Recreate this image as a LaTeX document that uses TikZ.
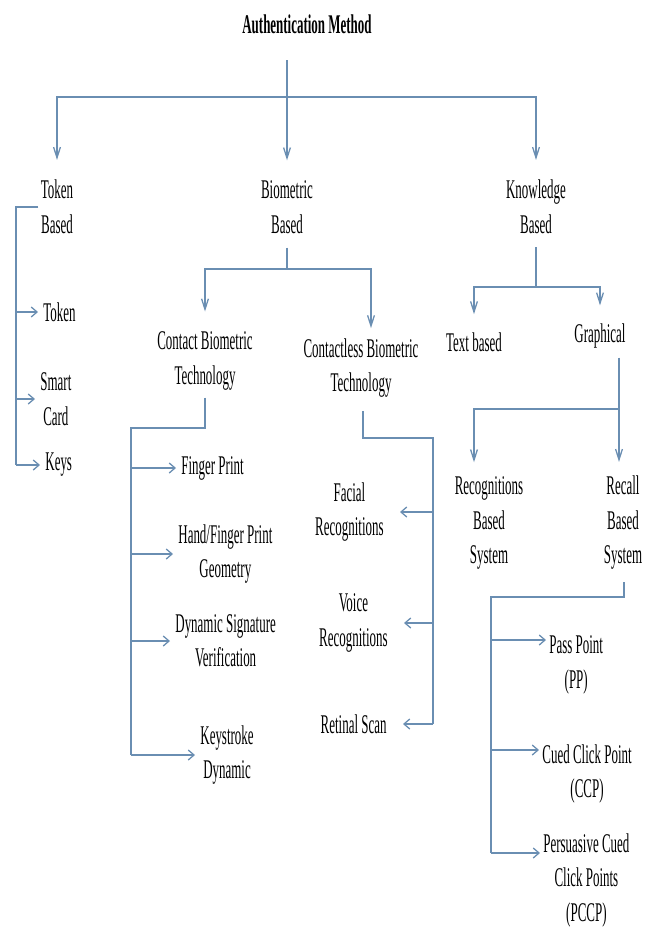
\documentclass[tikz,border=0pt]{standalone}
\usepackage{fontspec}
\setmainfont[FakeStretch=0.48]{Liberation Serif}
\usetikzlibrary{arrows.meta}
\definecolor{linkblue}{RGB}{106,142,178}

\begin{document}
\begin{tikzpicture} [x=0.5pt, y=-0.5pt,
  every node/.style={font=\fontsize{13.5}{17.25}\selectfont, align=center, inner sep=0pt},
  lnk/.style={linkblue, line width=0.65pt},
  dn/.style={lnk, -{Straight Barb[length=5.3pt, width=3.4pt]}},
  sd/.style={lnk, -{Straight Barb[length=2.9pt, width=5pt]}, shorten >=2.5pt}]
\useasboundingbox (0,0) rectangle (650,927);

\node (title) at (307,24) {\bfseries Authentication Method};
\node (tokB) at (57,207) {Token\\Based};
\node (bioB) at (287,207) {Biometric\\Based};
\node (knowB) at (536,207) {Knowledge\\Based};

\node[anchor=west] (token) at (43,312) {Token};
\node[anchor=west] (smart) at (40,399) {Smart\\Card};
\node[anchor=west] (keys) at (45,465) {Keys};

\node (cbt) at (205,361) {Contact Biometric\\Technology};
\node (clbt) at (361,368) {Contactless Biometric\\Technology};
\node (textb) at (474,342) {Text based};
\node (graph) at (600,336) {Graphical};

\node[anchor=west] (fprint) at (181,468) {Finger Print};
\node[anchor=west] (hand) at (178,554) {Hand/Finger Print\\Geometry};
\node[anchor=west] (dsig) at (175,641) {Dynamic Signature\\Verification};
\node[anchor=west] (keyst) at (200,755) {Keystroke\\Dynamic};

\node[anchor=east] (facial) at (384,512) {Facial\\Recognitions};
\node[anchor=east] (voice) at (388,623) {Voice\\Recognitions};
\node[anchor=east] (retinal) at (387,724) {Retinal Scan};

\node (recog) at (489,523) {Recognitions\\Based\\System};
\node (recall) at (623,523) {Recall\\Based\\System};

\node[anchor=west] (pp) at (549,665) {Pass Point\\(PP)};
\node[anchor=west] (ccp) at (542,774) {Cued Click Point\\(CCP)};
\node[anchor=west] (pccp) at (543,880) {Persuasive Cued\\Click Points\\(PCCP)};

\coordinate (t0) at (287,60);
\coordinate (j0) at (287,97);
\draw[dn, shorten >=10pt] (t0) -- (bioB.north);
\draw[dn, shorten >=10pt] (j0) -| (tokB.north);
\draw[dn, shorten >=10pt] (j0) -| (knowB.north);

\coordinate (tk) at (16,207);
\draw[lnk, shorten <=1pt] (tokB.west) -- (tk) -- (tk |- keys);
\foreach \n in {token, smart, keys} {
 \draw[sd] (tk |- \n) -- (\n.west);
}

\coordinate (bj) at (287,269);
\draw[lnk, shorten <=7pt] (bioB.south) -- (bj);
\draw[dn, shorten >=10pt] (bj) -| (cbt.north);
\draw[dn, shorten >=5pt] (bj) -| ([xshift=5pt]clbt.north);

\coordinate (cb) at (131,428);
\draw[lnk, shorten <=3.5pt] (cbt.south) |- (cb) -- (cb |- keyst);
\foreach \n in {fprint, hand, dsig, keyst} {
 \draw[sd] (cb |- \n) -- (\n.west);
}

\coordinate (cl) at (433,438);
\draw[lnk, shorten <=6.5pt] ([xshift=1pt]clbt.south) |- (cl) -- (cl |- retinal);
\foreach \n in {facial, voice, retinal} {
 \draw[sd, shorten >=8pt] (cl |- \n) -- (\n.east);
}

\coordinate (kj) at (536,287);
\draw[lnk, shorten <=6.5pt] (knowB.south) -- (kj);
\draw[dn, shorten >=9pt] (kj) -| (textb.north);
\draw[dn, shorten >=9pt] (kj) -| (graph.north);

\coordinate (gj) at (619,409);
\draw[lnk, shorten <=4.5pt] (graph.south -| gj) -- (gj);
\draw[dn, shorten >=7pt] (gj) -- (gj |- recall.north);
\draw[dn, shorten >=7pt] (gj) -| ([xshift=-7.5pt]recog.north);

\coordinate (rc) at (491,597);
\draw[lnk, shorten <=6pt] ([xshift=0.5pt]recall.south) |- (rc) -- (rc |- 0,853);
\foreach \n/\y in {pp/640, ccp/750, pccp/853} {
 \draw[sd, shorten >=1.5pt] (rc |- 0,\y) -- (\n.west |- 0,\y);
}
\end{tikzpicture}
\end{document}
